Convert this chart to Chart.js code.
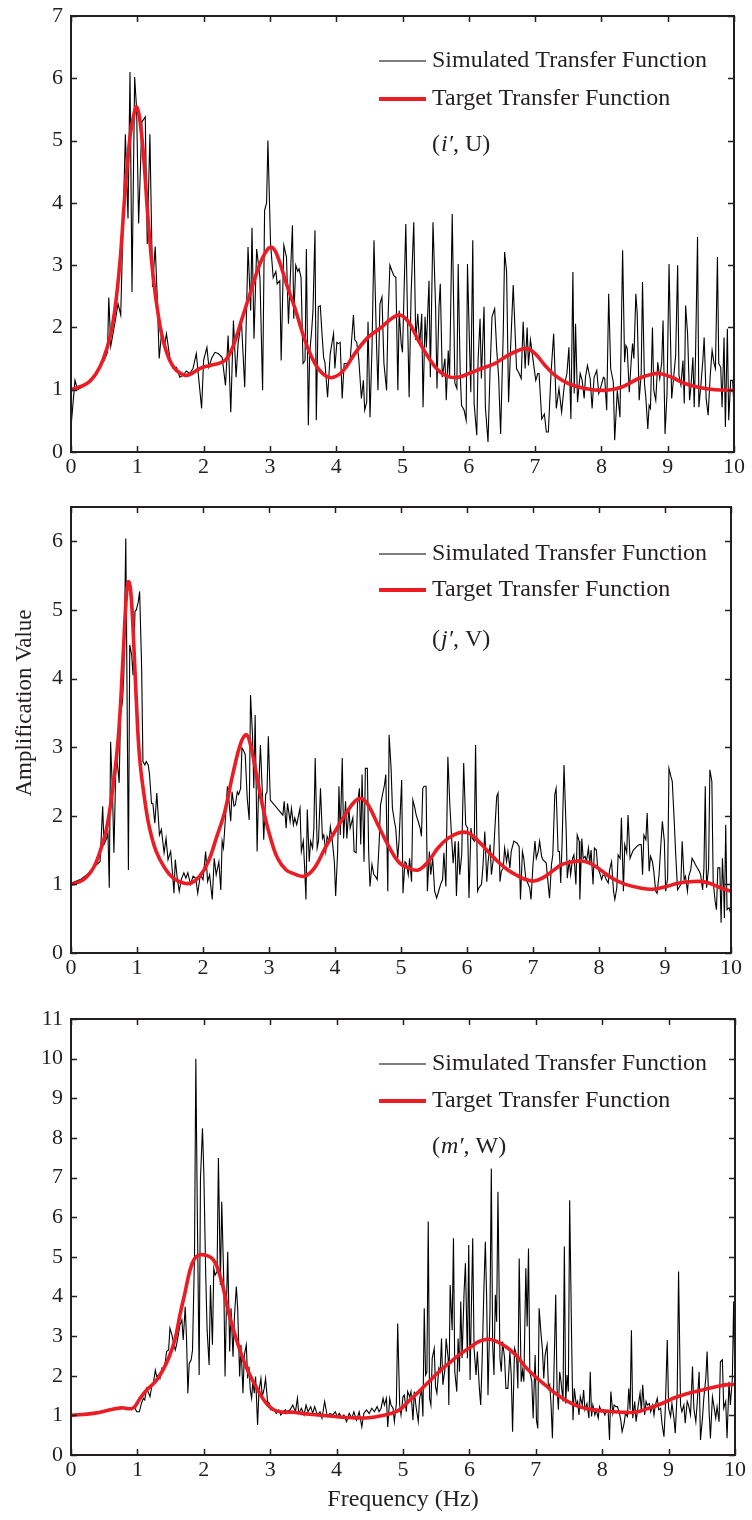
<!DOCTYPE html>
<html>
<head>
<meta charset="utf-8">
<script src="https://cdn.jsdelivr.net/npm/chart.js@4.4.1/dist/chart.umd.min.js"></script>
<style>
  body { margin: 0; background: #fff; overflow: hidden; }
  .panel { position: absolute; left: 0; }
</style>
</head>
<body>
<div class="panel" style="top:-10px"><canvas id="panelU" width="752" height="488"></canvas></div>
<div class="panel" style="top:478px"><canvas id="panelV" width="752" height="502"></canvas></div>
<div class="panel" style="top:980px"><canvas id="panelW" width="752" height="540"></canvas></div>
<script>
// frequency axis (Hz)
const freqTicks = [0, 1, 2, 3, 4, 5, 6, 7, 8, 9, 10];

// (i', U) simulated amplification, [Hz, value]
const simU = [
  [0,0.4],[0.06,1.15],[0.1,1.0],[0.15,1.03],[0.2,1.06],[0.25,1.1],[0.3,1.15],[0.35,1.22],[0.4,1.3],[0.45,1.4],
  [0.5,1.47],[0.55,1.6],[0.57,2.48],[0.6,1.7],[0.66,2.06],[0.71,2.38],[0.75,2.2],[0.82,5.1],[0.86,3.75],[0.89,6.1],
  [0.92,2.57],[0.96,6.02],[0.99,5.5],[1.02,3.67],[1.07,5.3],[1.12,5.38],[1.15,3.34],[1.19,5.1],[1.23,2.65],[1.27,3.3],
  [1.3,2.5],[1.33,1.5],[1.37,1.95],[1.41,1.7],[1.44,1.9],[1.49,1.52],[1.54,1.34],[1.59,1.36],[1.64,1.2],[1.69,1.23],
  [1.74,1.3],[1.79,1.26],[1.84,1.34],[1.89,1.58],[1.97,0.7],[2.0,1.47],[2.05,1.68],[2.08,1.36],[2.12,1.5],[2.17,1.6],
  [2.22,1.58],[2.28,1.52],[2.33,1.07],[2.37,1.87],[2.41,0.64],[2.45,2.11],[2.49,1.2],[2.52,1.74],[2.57,2.11],[2.62,1.04],
  [2.67,3.29],[2.71,2.27],[2.73,3.6],[2.76,1.82],[2.8,3.26],[2.85,2.8],[2.89,0.99],[2.92,3.88],[2.95,4.0],[2.97,5.0],
  [3.01,3.34],[3.05,2.8],[3.09,2.9],[3.11,2.7],[3.15,2.75],[3.17,1.47],[3.21,3.32],[3.25,3.13],[3.28,2.06],[3.34,3.64],
  [3.36,2.14],[3.39,3.0],[3.42,2.9],[3.44,2.94],[3.47,2.8],[3.5,1.42],[3.53,1.47],[3.55,3.26],[3.58,0.43],[3.6,1.58],
  [3.63,1.95],[3.65,2.27],[3.68,3.56],[3.7,0.51],[3.73,2.33],[3.76,2.35],[3.78,2.0],[3.81,1.52],[3.83,1.44],[3.87,0.88],
  [3.91,1.58],[3.93,1.71],[3.96,1.9],[3.98,1.34],[4.01,1.76],[4.03,1.74],[4.06,1.76],[4.09,0.86],[4.12,1.42],[4.16,1.42],
  [4.18,1.44],[4.21,1.47],[4.26,2.2],[4.28,1.8],[4.31,1.76],[4.34,1.5],[4.38,0.86],[4.41,1.15],[4.43,0.67],[4.46,0.8],
  [4.48,2.09],[4.51,0.56],[4.54,1.68],[4.57,3.4],[4.61,1.66],[4.63,0.99],[4.66,2.38],[4.69,2.49],[4.72,1.42],[4.76,0.99],
  [4.78,2.09],[4.81,3.0],[4.84,2.91],[4.87,2.83],[4.9,2.8],[4.93,0.99],[4.95,2.27],[4.98,1.74],[5.0,1.6],[5.05,3.66],
  [5.07,2.49],[5.1,0.88],[5.13,2.54],[5.17,3.69],[5.2,1.8],[5.23,2.22],[5.26,1.71],[5.29,2.22],[5.31,0.72],[5.34,2.17],
  [5.36,1.68],[5.4,2.75],[5.42,1.2],[5.46,3.69],[5.5,2.3],[5.52,1.02],[5.55,2.33],[5.57,2.7],[5.6,1.2],[5.64,1.5],
  [5.66,0.83],[5.69,1.63],[5.71,1.2],[5.75,3.82],[5.79,1.1],[5.82,1.02],[5.84,3.02],[5.87,1.28],[5.89,0.75],[5.93,0.67],
  [5.96,0.51],[5.98,3.02],[6.01,1.74],[6.03,0.96],[6.06,3.4],[6.08,0.78],[6.12,0.27],[6.14,1.47],[6.17,2.14],[6.19,1.18],
  [6.23,2.33],[6.25,0.72],[6.29,0.16],[6.32,1.28],[6.35,2.17],[6.39,2.3],[6.42,1.66],[6.45,1.2],[6.48,0.29],[6.52,1.93],
  [6.54,3.21],[6.57,2.9],[6.6,0.8],[6.63,1.66],[6.67,2.68],[6.72,1.34],[6.76,1.26],[6.79,1.18],[6.82,2.09],[6.85,1.34],
  [6.88,2.0],[6.9,1.39],[6.93,1.8],[6.97,1.47],[7.01,1.15],[7.04,1.26],[7.06,1.26],[7.1,0.53],[7.14,0.61],[7.17,0.32],
  [7.2,0.32],[7.24,1.26],[7.28,1.9],[7.32,0.7],[7.36,1.02],[7.4,0.64],[7.44,1.07],[7.48,1.26],[7.51,1.68],[7.54,0.53],
  [7.57,2.89],[7.59,0.94],[7.61,2.06],[7.64,0.8],[7.68,1.26],[7.71,1.15],[7.74,0.86],[7.76,1.2],[7.79,1.39],[7.83,1.18],
  [7.86,0.7],[7.89,1.2],[7.93,1.31],[7.96,0.94],[7.99,1.04],[8.03,1.2],[8.05,1.18],[8.08,0.67],[8.11,2.54],[8.14,1.34],
  [8.18,1.12],[8.2,0.19],[8.24,0.99],[8.28,0.56],[8.32,3.24],[8.35,1.44],[8.37,1.71],[8.39,1.66],[8.42,0.96],[8.45,1.47],
  [8.47,1.74],[8.49,1.5],[8.52,2.54],[8.54,2.22],[8.57,0.83],[8.6,1.26],[8.62,2.73],[8.65,1.1],[8.67,0.88],[8.7,0.37],
  [8.72,0.75],[8.74,0.7],[8.77,2.0],[8.79,0.99],[8.82,0.83],[8.85,1.44],[8.88,1.18],[8.91,1.44],[8.93,2.11],[8.96,0.29],
  [8.99,0.94],[9.02,3.02],[9.06,0.86],[9.09,1.2],[9.12,1.55],[9.15,3.0],[9.17,1.23],[9.2,1.07],[9.23,1.47],[9.25,0.78],
  [9.27,2.35],[9.3,1.9],[9.33,0.83],[9.35,1.04],[9.38,1.52],[9.4,0.72],[9.42,1.55],[9.45,3.45],[9.47,0.72],[9.5,1.07],
  [9.53,1.47],[9.55,1.84],[9.58,0.86],[9.61,0.59],[9.64,1.2],[9.67,1.63],[9.7,1.42],[9.72,1.34],[9.75,3.13],[9.77,1.42],
  [9.8,1.36],[9.82,0.72],[9.85,1.84],[9.87,0.4],[9.9,1.98],[9.92,0.51],[9.95,1.15],[9.98,1.15],[10,0.7]
];

// (i', U) target amplification
const targetU = [
  [0,1.0],[0.24,1.1],[0.39,1.28],[0.49,1.5],[0.59,1.85],[0.66,2.27],[0.74,3.07],[0.81,4.1],[0.89,5.06],[0.95,5.43],
  [0.99,5.54],[1.04,5.32],[1.1,4.68],[1.16,3.77],[1.24,2.81],[1.32,2.17],[1.39,1.79],[1.49,1.47],[1.59,1.31],[1.72,1.23],
  [1.82,1.26],[1.94,1.34],[2.1,1.39],[2.25,1.43],[2.35,1.5],[2.45,1.71],[2.57,2.11],[2.7,2.54],[2.85,3.02],[2.97,3.26],
  [3.04,3.28],[3.12,3.13],[3.25,2.7],[3.38,2.3],[3.53,1.79],[3.68,1.42],[3.83,1.23],[3.96,1.2],[4.11,1.31],[4.28,1.58],
  [4.48,1.84],[4.68,2.0],[4.83,2.14],[4.96,2.2],[5.09,2.09],[5.24,1.79],[5.39,1.52],[5.54,1.31],[5.69,1.21],[5.84,1.2],
  [6.0,1.26],[6.19,1.34],[6.39,1.42],[6.54,1.52],[6.7,1.61],[6.87,1.66],[7.0,1.58],[7.15,1.39],[7.3,1.23],[7.5,1.1],
  [7.75,1.02],[8.05,0.99],[8.3,1.04],[8.56,1.18],[8.76,1.25],[8.88,1.26],[9.06,1.2],[9.26,1.1],[9.46,1.04],[9.71,1.0],
  [10,0.99]
];

// (j', V) simulated amplification
const simV = [
  [0.01,1.02],[0.14,1.07],[0.24,1.14],[0.34,1.24],[0.39,1.29],[0.44,1.33],[0.48,2.14],[0.5,1.58],[0.54,1.67],[0.56,1.75],
  [0.58,0.95],[0.6,3.08],[0.63,2.3],[0.65,1.46],[0.68,2.74],[0.7,2.79],[0.73,2.48],[0.75,3.47],[0.78,3.67],[0.8,4.05],
  [0.83,6.04],[0.84,4.93],[0.87,1.21],[0.89,4.49],[0.92,4.34],[0.94,4.05],[0.97,4.98],[0.99,5.0],[1.02,5.12],[1.04,5.27],
  [1.07,4.17],[1.09,2.79],[1.12,2.74],[1.14,2.79],[1.17,2.74],[1.19,2.6],[1.22,2.18],[1.24,2.18],[1.27,1.89],[1.3,2.33],
  [1.34,1.72],[1.37,1.8],[1.41,1.46],[1.44,1.67],[1.47,1.36],[1.51,1.48],[1.54,1.14],[1.56,0.87],[1.58,1.36],[1.61,1.09],
  [1.64,0.9],[1.67,1.07],[1.71,1.17],[1.74,1.09],[1.77,1.17],[1.81,1.0],[1.85,1.12],[1.89,1.09],[1.92,0.87],[1.96,1.14],
  [2.0,1.07],[2.04,1.48],[2.07,1.04],[2.1,1.14],[2.14,0.78],[2.17,1.38],[2.2,1.14],[2.24,1.33],[2.27,0.92],[2.29,1.63],
  [2.31,1.53],[2.34,1.97],[2.37,2.43],[2.39,2.26],[2.42,1.92],[2.44,2.35],[2.47,2.14],[2.49,2.16],[2.52,2.35],[2.54,2.31],
  [2.57,2.4],[2.59,2.99],[2.62,2.94],[2.64,2.89],[2.67,2.26],[2.7,1.94],[2.72,3.76],[2.75,3.18],[2.77,2.4],[2.79,3.47],
  [2.82,1.48],[2.84,2.31],[2.87,3.03],[2.9,2.31],[2.92,1.65],[2.95,2.31],[2.97,2.35],[2.99,3.16],[3.02,2.23],[3.21,2.01],
  [3.23,2.21],[3.26,1.82],[3.28,2.18],[3.32,1.92],[3.34,2.11],[3.37,1.87],[3.39,1.97],[3.42,1.87],[3.44,1.97],[3.47,2.11],
  [3.49,1.48],[3.52,1.63],[3.54,1.24],[3.56,0.78],[3.58,2.09],[3.61,1.33],[3.63,1.63],[3.66,1.53],[3.68,1.82],[3.7,2.84],
  [3.73,1.53],[3.75,1.63],[3.78,2.4],[3.81,1.67],[3.83,1.72],[3.86,1.48],[3.88,1.7],[3.91,1.63],[3.93,1.84],[3.96,1.63],
  [3.99,1.33],[4.01,0.83],[4.04,1.48],[4.06,2.43],[4.08,1.72],[4.11,2.84],[4.13,1.67],[4.16,2.21],[4.18,1.67],[4.21,2.11],
  [4.23,1.82],[4.27,1.97],[4.29,1.48],[4.32,1.46],[4.34,2.16],[4.37,2.4],[4.39,1.58],[4.41,2.6],[4.44,1.33],[4.46,2.69],
  [4.49,2.69],[4.51,1.48],[4.53,0.97],[4.56,1.29],[4.59,1.14],[4.61,1.12],[4.64,1.07],[4.67,1.63],[4.69,2.16],[4.72,2.31],
  [4.75,2.45],[4.77,2.6],[4.8,0.9],[4.82,3.18],[4.85,2.69],[4.87,2.11],[4.9,1.92],[4.92,1.82],[4.95,1.38],[4.97,1.63],
  [5.01,2.52],[5.03,0.87],[5.06,1.33],[5.08,1.31],[5.11,1.14],[5.13,1.38],[5.16,1.04],[5.18,2.23],[5.21,2.11],[5.23,2.01],
  [5.26,1.92],[5.29,1.82],[5.31,1.7],[5.33,2.4],[5.35,2.43],[5.38,2.43],[5.4,0.9],[5.43,1.48],[5.45,1.14],[5.48,1.38],
  [5.51,0.9],[5.54,0.8],[5.57,0.9],[5.6,1.0],[5.63,1.07],[5.65,1.46],[5.68,0.97],[5.71,2.86],[5.74,2.16],[5.77,1.63],
  [5.79,1.31],[5.82,1.63],[5.84,0.83],[5.87,1.63],[5.89,1.14],[5.92,1.43],[5.95,2.77],[5.98,1.87],[6.01,1.82],[6.03,0.8],
  [6.06,1.82],[6.08,1.67],[6.11,1.63],[6.13,3.03],[6.16,0.9],[6.18,0.95],[6.22,1.0],[6.24,1.24],[6.27,1.77],[6.3,1.04],
  [6.32,1.33],[6.35,1.58],[6.37,1.14],[6.4,1.38],[6.42,1.77],[6.45,2.28],[6.47,2.33],[6.5,1.04],[6.52,1.19],[6.55,1.24],
  [6.57,1.53],[6.6,1.33],[6.62,1.48],[6.65,1.24],[6.67,1.48],[6.71,1.63],[6.76,1.6],[6.79,1.55],[6.81,0.78],[6.84,1.48],
  [6.86,1.38],[6.89,1.09],[6.92,1.02],[6.95,0.95],[6.97,0.78],[7.0,1.29],[7.03,1.63],[7.05,1.38],[7.08,1.48],[7.1,1.63],
  [7.13,1.41],[7.15,1.36],[7.18,1.33],[7.2,1.31],[7.23,1.0],[7.25,0.8],[7.28,1.29],[7.3,1.43],[7.33,2.31],[7.35,2.4],
  [7.38,1.48],[7.4,1.48],[7.42,1.02],[7.44,1.58],[7.47,2.74],[7.5,1.87],[7.52,1.09],[7.55,1.36],[7.57,1.14],[7.6,1.38],
  [7.62,1.43],[7.65,1.0],[7.67,1.72],[7.7,1.63],[7.71,0.78],[7.74,1.67],[7.76,1.38],[7.79,1.41],[7.81,1.33],[7.84,1.53],
  [7.86,1.31],[7.88,1.5],[7.91,1.0],[7.93,1.53],[7.96,1.5],[7.98,1.24],[8.01,1.17],[8.04,1.07],[8.06,1.14],[8.09,1.12],
  [8.11,1.07],[8.14,1.02],[8.16,1.21],[8.19,1.33],[8.22,0.9],[8.24,0.78],[8.27,0.95],[8.29,1.43],[8.32,1.38],[8.34,1.97],
  [8.37,0.9],[8.39,1.58],[8.42,1.46],[8.44,2.01],[8.47,1.38],[8.49,1.43],[8.52,1.5],[8.55,1.53],[8.57,1.55],[8.61,1.58],
  [8.64,1.58],[8.66,1.14],[8.68,1.72],[8.71,1.65],[8.73,2.04],[8.76,1.19],[8.78,1.41],[8.81,1.33],[8.83,1.19],[8.86,0.9],
  [8.88,0.87],[8.91,1.14],[8.93,1.46],[8.96,1.92],[8.99,1.63],[9.01,0.9],[9.04,1.09],[9.06,2.69],[9.09,2.57],[9.11,2.5],
  [9.14,1.92],[9.16,1.48],[9.19,0.92],[9.21,0.95],[9.24,1.0],[9.26,1.63],[9.29,1.07],[9.31,1.12],[9.34,0.9],[9.36,1.12],
  [9.39,1.21],[9.41,1.38],[9.44,1.33],[9.46,1.29],[9.49,1.24],[9.52,1.19],[9.54,1.14],[9.57,0.92],[9.59,1.24],[9.61,2.43],
  [9.63,0.95],[9.66,1.24],[9.68,2.67],[9.71,2.5],[9.73,1.04],[9.76,0.75],[9.78,0.63],[9.8,1.24],[9.83,1.24],[9.85,0.44],
  [9.87,1.38],[9.89,0.9],[9.9,0.51],[9.92,1.87],[9.94,0.63],[9.97,0.66],[10,0.56]
];

// (j', V) target amplification
const targetV = [
  [0,1.0],[0.19,1.07],[0.34,1.24],[0.44,1.48],[0.54,1.82],[0.64,2.45],[0.72,3.18],[0.79,4.34],[0.84,5.22],[0.87,5.41],
  [0.9,5.32],[0.94,4.73],[0.99,3.67],[1.04,2.84],[1.12,2.21],[1.19,1.82],[1.29,1.48],[1.42,1.24],[1.55,1.09],[1.7,1.02],
  [1.82,1.02],[1.95,1.12],[2.08,1.33],[2.2,1.67],[2.33,2.06],[2.45,2.6],[2.58,3.08],[2.66,3.18],[2.73,2.99],[2.81,2.6],
  [2.91,2.11],[3.01,1.72],[3.13,1.38],[3.26,1.21],[3.39,1.15],[3.54,1.12],[3.69,1.24],[3.85,1.53],[4.0,1.77],[4.15,2.01],
  [4.3,2.21],[4.4,2.25],[4.5,2.16],[4.65,1.87],[4.8,1.58],[4.96,1.33],[5.11,1.24],[5.26,1.21],[5.41,1.33],[5.56,1.53],
  [5.71,1.67],[5.87,1.75],[6.02,1.75],[6.17,1.63],[6.32,1.48],[6.47,1.33],[6.62,1.21],[6.74,1.14],[6.89,1.07],[7.02,1.05],
  [7.14,1.09],[7.29,1.19],[7.44,1.29],[7.6,1.33],[7.75,1.34],[7.9,1.29],[8.05,1.19],[8.2,1.09],[8.4,1.0],[8.61,0.95],
  [8.81,0.93],[9.02,0.97],[9.21,1.02],[9.41,1.04],[9.57,1.04],[9.72,1.0],[9.87,0.94],[10,0.9]
];

// (m', W) simulated amplification
const simW = [
  [0,1.02],[0.1,1.03],[0.2,1.04],[0.3,1.06],[0.4,1.09],[0.5,1.11],[0.6,1.14],[0.7,1.17],[0.8,1.19],[0.86,1.18],
  [0.91,1.14],[0.95,1.22],[0.99,1.09],[1.03,1.09],[1.06,1.3],[1.09,1.43],[1.11,1.39],[1.14,1.68],[1.17,1.56],[1.19,1.47],
  [1.22,1.77],[1.24,1.81],[1.27,2.14],[1.29,1.98],[1.32,2.02],[1.34,1.93],[1.37,2.19],[1.39,2.14],[1.42,2.35],[1.44,2.61],
  [1.47,2.65],[1.49,3.2],[1.52,3.03],[1.54,2.86],[1.57,2.65],[1.59,2.78],[1.62,3.07],[1.64,3.28],[1.67,3.41],[1.69,2.9],
  [1.72,3.74],[1.74,2.94],[1.76,1.56],[1.78,2.31],[1.81,2.4],[1.83,2.65],[1.86,5.05],[1.88,10.0],[1.9,6.48],[1.93,2.02],
  [1.95,6.98],[1.98,8.24],[2.0,7.15],[2.03,4.46],[2.05,3.15],[2.08,2.27],[2.1,4.29],[2.13,2.78],[2.15,4.71],[2.17,4.54],
  [2.2,4.63],[2.22,7.49],[2.25,4.29],[2.27,6.39],[2.3,4.46],[2.32,1.98],[2.34,3.7],[2.36,5.13],[2.39,2.61],[2.41,3.7],
  [2.44,2.48],[2.46,3.45],[2.49,4.25],[2.51,3.7],[2.54,1.98],[2.56,2.78],[2.59,1.56],[2.61,2.52],[2.64,2.78],[2.66,1.93],
  [2.68,2.23],[2.7,1.64],[2.72,1.43],[2.74,1.89],[2.76,1.56],[2.78,1.98],[2.81,0.76],[2.83,1.6],[2.86,1.93],[2.88,1.47],
  [2.91,1.68],[2.93,1.93],[2.96,1.35],[2.99,1.3],[3.01,1.14],[3.05,1.18],[3.09,1.05],[3.13,1.14],[3.16,1.01],[3.19,1.09],
  [3.23,1.14],[3.25,1.09],[3.3,1.14],[3.34,1.26],[3.38,1.09],[3.41,1.43],[3.43,1.05],[3.47,1.18],[3.51,1.01],[3.54,1.26],
  [3.57,1.09],[3.61,1.22],[3.64,1.05],[3.67,1.22],[3.71,1.01],[3.75,1.09],[3.78,0.93],[3.82,1.35],[3.86,0.97],[3.9,1.05],
  [3.94,1.01],[3.98,1.09],[4.01,0.97],[4.04,1.05],[4.08,0.93],[4.11,1.01],[4.15,0.84],[4.19,1.05],[4.23,0.93],[4.26,1.09],
  [4.3,0.88],[4.34,1.09],[4.38,0.71],[4.41,1.05],[4.45,1.14],[4.49,1.05],[4.53,1.18],[4.57,1.09],[4.61,1.22],[4.64,1.09],
  [4.67,1.18],[4.7,1.43],[4.72,1.26],[4.75,1.43],[4.77,0.71],[4.8,1.43],[4.82,1.26],[4.85,1.18],[4.87,0.84],[4.9,1.3],
  [4.92,3.32],[4.95,1.26],[4.97,1.01],[5.0,1.47],[5.02,1.51],[5.05,1.09],[5.07,1.6],[5.1,1.47],[5.12,1.6],[5.15,0.88],
  [5.17,1.6],[5.2,1.18],[5.23,0.84],[5.25,1.43],[5.28,1.64],[5.3,0.97],[5.32,3.7],[5.34,2.02],[5.36,2.1],[5.38,5.89],
  [5.4,1.43],[5.42,1.26],[5.44,2.44],[5.47,2.69],[5.49,1.72],[5.51,1.56],[5.54,2.19],[5.56,2.1],[5.58,2.94],[5.6,1.77],
  [5.63,2.14],[5.65,2.94],[5.68,2.44],[5.69,1.26],[5.71,4.29],[5.74,3.15],[5.76,5.47],[5.78,2.1],[5.81,1.6],[5.83,2.94],
  [5.85,2.1],[5.87,3.87],[5.89,2.44],[5.92,4.12],[5.94,4.84],[5.97,2.44],[5.99,5.3],[6.01,1.89],[6.03,3.74],[6.05,5.47],
  [6.07,2.69],[6.1,2.02],[6.12,2.61],[6.15,1.68],[6.17,1.26],[6.19,2.27],[6.22,4.29],[6.24,5.38],[6.26,3.95],[6.28,1.51],
  [6.31,3.62],[6.33,7.23],[6.35,2.78],[6.37,2.02],[6.39,4.04],[6.41,3.36],[6.43,6.64],[6.46,2.44],[6.48,2.1],[6.5,2.86],
  [6.53,2.44],[6.55,1.68],[6.58,1.68],[6.61,2.61],[6.63,2.02],[6.65,0.59],[6.68,2.69],[6.71,2.52],[6.73,1.68],[6.75,4.96],
  [6.78,1.85],[6.8,2.14],[6.82,1.85],[6.85,4.71],[6.87,3.24],[6.89,5.21],[6.91,2.1],[6.94,1.85],[6.96,0.93],[6.99,2.52],
  [7.01,0.88],[7.03,0.67],[7.05,3.7],[7.08,3.03],[7.1,2.65],[7.12,1.93],[7.14,2.52],[7.17,2.78],[7.19,1.68],[7.21,1.77],
  [7.23,1.26],[7.25,0.42],[7.27,1.85],[7.3,4.04],[7.32,1.68],[7.34,1.14],[7.36,2.1],[7.38,1.85],[7.41,1.35],[7.43,5.26],
  [7.45,1.3],[7.47,2.02],[7.49,1.6],[7.51,6.43],[7.54,2.86],[7.56,0.88],[7.58,1.68],[7.61,1.26],[7.63,1.35],[7.65,1.01],
  [7.67,1.47],[7.7,1.26],[7.72,1.64],[7.74,1.14],[7.77,1.3],[7.8,0.93],[7.82,2.1],[7.84,0.97],[7.86,1.26],[7.89,1.01],
  [7.91,1.14],[7.94,0.93],[7.96,1.22],[7.99,1.09],[8.01,1.14],[8.04,1.01],[8.06,1.09],[8.09,1.09],[8.11,0.38],[8.13,1.6],
  [8.16,1.05],[8.18,1.26],[8.21,1.22],[8.23,1.22],[8.26,1.05],[8.28,0.88],[8.3,0.59],[8.33,0.8],[8.35,1.05],[8.38,0.97],
  [8.4,1.68],[8.42,1.14],[8.44,3.15],[8.46,0.93],[8.49,1.35],[8.51,0.84],[8.54,1.22],[8.57,1.56],[8.59,1.09],[8.61,1.77],
  [8.64,1.01],[8.66,1.35],[8.68,1.26],[8.71,1.3],[8.73,1.09],[8.76,1.26],[8.78,1.01],[8.8,1.26],[8.83,1.43],[8.85,1.14],
  [8.88,1.18],[8.9,0.8],[8.93,0.46],[8.95,1.14],[8.98,2.9],[9.0,1.18],[9.03,0.97],[9.05,1.3],[9.08,0.93],[9.1,0.55],
  [9.13,1.6],[9.15,4.63],[9.18,1.26],[9.2,1.09],[9.23,1.26],[9.25,0.8],[9.28,1.35],[9.3,1.26],[9.33,1.01],[9.36,2.23],
  [9.38,1.18],[9.41,0.84],[9.43,1.3],[9.46,2.1],[9.48,0.38],[9.51,0.93],[9.53,1.43],[9.56,1.93],[9.58,2.61],[9.61,1.09],
  [9.63,0.42],[9.66,1.47],[9.68,1.26],[9.71,0.93],[9.73,1.22],[9.76,0.84],[9.78,2.35],[9.81,2.4],[9.83,1.18],[9.86,1.35],
  [9.88,0.42],[9.91,1.85],[9.93,1.26],[9.96,1.93],[9.98,3.87],[10,1.68]
];

// (m', W) target amplification
const targetW = [
  [0,1.0],[0.34,1.05],[0.59,1.14],[0.76,1.19],[0.93,1.18],[1.04,1.43],[1.14,1.64],[1.27,1.85],[1.37,2.1],[1.47,2.44],
  [1.57,2.94],[1.64,3.53],[1.72,4.12],[1.79,4.65],[1.86,4.95],[1.94,5.05],[2.05,5.03],[2.13,4.95],[2.2,4.75],[2.28,4.3],
  [2.37,3.62],[2.47,3.03],[2.57,2.52],[2.67,2.1],[2.8,1.68],[2.92,1.35],[3.05,1.14],[3.2,1.08],[3.35,1.08],[3.47,1.05],
  [3.72,1.01],[3.98,0.97],[4.23,0.94],[4.48,0.94],[4.73,1.01],[4.88,1.08],[4.98,1.18],[5.08,1.35],[5.24,1.6],[5.39,1.85],
  [5.54,2.1],[5.69,2.31],[5.84,2.52],[5.99,2.69],[6.14,2.86],[6.27,2.92],[6.39,2.88],[6.55,2.73],[6.7,2.52],[6.84,2.23],
  [6.99,1.98],[7.14,1.77],[7.29,1.56],[7.44,1.39],[7.59,1.26],[7.79,1.16],[8.05,1.11],[8.3,1.08],[8.5,1.08],[8.7,1.18],
  [8.9,1.3],[9.1,1.45],[9.3,1.56],[9.51,1.64],[9.71,1.72],[9.86,1.77],[10,1.78]
];

const SERIES_NAMES = ['Simulated Transfer Function', 'Target Transfer Function'];
const INK = '#231f20';
const RED = '#ec1c24';
const SERIF = '"Liberation Serif", "Times New Roman", serif';
const TICK_LEN = 6;
const KEY_FONT = 24;

// frame on all four sides with inward MATLAB-style ticks
const framePlugin = {
  id: 'frame',
  afterDatasetsDraw(chart) {
    const { ctx, chartArea: a, scales } = chart;
    ctx.save();
    ctx.strokeStyle = INK;
    ctx.lineWidth = 1.5;
    ctx.beginPath();
    scales.x.ticks.forEach(t => {
      const px = Math.round(scales.x.getPixelForValue(t.value)) + 0.5;
      ctx.moveTo(px, a.bottom); ctx.lineTo(px, a.bottom - TICK_LEN);
      ctx.moveTo(px, a.top); ctx.lineTo(px, a.top + TICK_LEN);
    });
    scales.y.ticks.forEach(t => {
      const py = Math.round(scales.y.getPixelForValue(t.value)) + 0.5;
      ctx.moveTo(a.left, py); ctx.lineTo(a.left + TICK_LEN, py);
      ctx.moveTo(a.right, py); ctx.lineTo(a.right - TICK_LEN, py);
    });
    ctx.stroke();
    ctx.lineWidth = 2;
    ctx.strokeRect(a.left, a.top, a.right - a.left, a.bottom - a.top);
    ctx.restore();
  }
};

// in-plot legend plus the point/component tag, e.g. (i′, U)
const keyPlugin = {
  id: 'key',
  afterDraw(chart, args, opts) {
    const { ctx, chartArea: a } = chart;
    const lineX0 = 379, lineX1 = 426, textX = 432;
    const regular = KEY_FONT + 'px ' + SERIF;
    ctx.save();
    ctx.textBaseline = 'middle';
    ctx.font = regular;
    ctx.fillStyle = INK;

    ctx.strokeStyle = '#000';
    ctx.lineWidth = 1.2;
    ctx.beginPath();
    ctx.moveTo(lineX0, a.top + opts.rows[0]); ctx.lineTo(lineX1, a.top + opts.rows[0]);
    ctx.stroke();
    ctx.fillText(SERIES_NAMES[0], textX, a.top + opts.rows[0]);

    ctx.strokeStyle = RED;
    ctx.lineWidth = 4;
    ctx.beginPath();
    ctx.moveTo(lineX0, a.top + opts.rows[1]); ctx.lineTo(lineX1, a.top + opts.rows[1]);
    ctx.stroke();
    ctx.fillText(SERIES_NAMES[1], textX, a.top + opts.rows[1]);

    // tag: "(" + italic point name with prime + ", component)"
    const ty = a.top + opts.rows[2];
    let x = textX;
    ctx.fillText('(', x, ty); x += ctx.measureText('(').width + 1;
    ctx.font = 'italic ' + regular;
    ctx.fillText(opts.point + '\u2032', x, ty); x += ctx.measureText(opts.point + '\u2032').width;
    ctx.font = regular;
    ctx.fillText(', ' + opts.comp + ')', x, ty);

    if (opts.yTitle) {
      ctx.save();
      ctx.font = '23px ' + SERIF;
      ctx.translate(25, opts.yTitle.y);
      ctx.rotate(-Math.PI / 2);
      ctx.textAlign = 'center';
      ctx.fillText(opts.yTitle.text, 0, 0);
      ctx.restore();
    }
    if (opts.xTitle) {
      ctx.font = '24px ' + SERIF;
      ctx.textAlign = 'center';
      ctx.fillText(opts.xTitle.text, (a.left + a.right) / 2, opts.xTitle.y);
    }
    ctx.restore();
  }
};

function makePanel(id, sim, target, yMax, box, key) {
  new Chart(document.getElementById(id), {
    type: 'line',
    data: {
      datasets: [
        { label: SERIES_NAMES[0], data: sim, borderColor: '#000', borderWidth: 1.1,
          pointRadius: 0, tension: 0, order: 1 },
        { label: SERIES_NAMES[1], data: target, borderColor: RED, borderWidth: 3.6,
          pointRadius: 0, tension: 0.4, order: 0 }
      ]
    },
    options: {
      responsive: false,
      animation: false,
      events: [],
      layout: { padding: { top: box.top, right: box.right, left: 0, bottom: 0 } },
      plugins: { legend: { display: false }, tooltip: { enabled: false }, key: key },
      scales: {
        x: {
          type: 'linear', min: 0, max: 10,
          afterBuildTicks: s => { s.ticks = freqTicks.map(v => ({ value: v })); },
          afterFit: s => { s.height = box.bottom; },
          grid: { display: false, drawTicks: false },
          border: { display: false },
          ticks: { color: INK, padding: 2, maxRotation: 0, font: { family: SERIF, size: 22 } }
        },
        y: {
          type: 'linear', min: 0, max: yMax,
          afterBuildTicks: s => {
            s.ticks = [];
            for (let v = 0; v <= yMax; v++) s.ticks.push({ value: v });
          },
          afterFit: s => { s.width = 71; },
          grid: { display: false, drawTicks: false },
          border: { display: false },
          ticks: { color: INK, padding: 8, font: { family: SERIF, size: 22 } }
        }
      }
    },
    plugins: [framePlugin, keyPlugin]
  });
}

makePanel('panelU', simU, targetU, 7, { top: 26, right: 18, bottom: 26 },
  { rows: [45, 83, 129], point: 'i', comp: 'U' });
makePanel('panelV', simV, targetV, 6.5, { top: 29, right: 21, bottom: 27 },
  { rows: [47, 83, 133], point: 'j', comp: 'V',
    yTitle: { text: 'Amplification Value', y: 225 } });
makePanel('panelW', simW, targetW, 11, { top: 39, right: 17, bottom: 65 },
  { rows: [45, 82, 128], point: 'm', comp: 'W',
    xTitle: { text: 'Frequency (Hz)', y: 520 } });
</script>
</body>
</html>
